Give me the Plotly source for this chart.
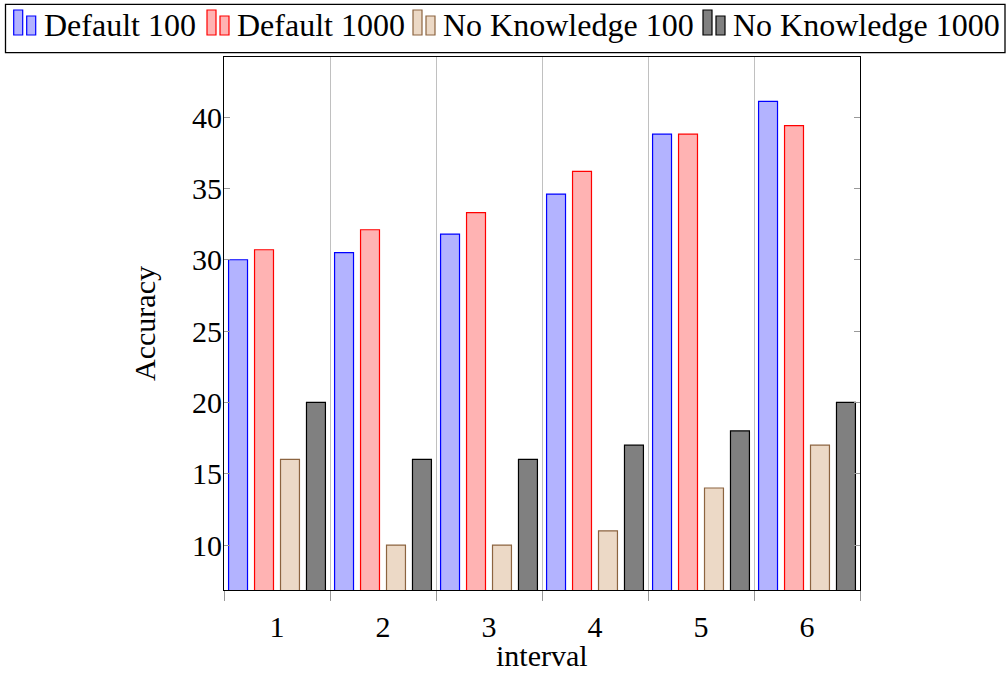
import plotly.graph_objects as go

intervals = [1, 2, 3, 4, 5, 6]
tick_labels = ["1", "2", "3", "4", "5", "6"]
default_100 = [30.0, 30.5, 31.8, 34.6, 38.8, 41.1]
default_1000 = [30.7, 32.1, 33.3, 36.2, 38.8, 39.4]
noknow_100 = [16, 10, 10, 11, 14, 17]
noknow_1000 = [20, 16, 16, 17, 18, 20]

series = [
    ("Default 100", default_100, "#b3b3ff", "#0000ff"),
    ("Default 1000", default_1000, "#ffb3b3", "#ff0000"),
    ("No Knowledge 100", noknow_100, "#ecd9c6", "#8c6440"),
    ("No Knowledge 1000", noknow_1000, "#808080", "#000000"),
]

FONT = "Liberation Serif"
W, H = 1008, 683
L, R, T, B = 224, 148, 57, 93
PW, PH = W - L - R, H - T - B


def px_x(px):
    return (px - L) / PW


def px_y(py):
    return (H - B - py) / PH


fig = go.Figure()
for name, vals, fill, line in series:
    fig.add_trace(go.Bar(
        x=intervals, y=vals, name=name, showlegend=False,
        marker=dict(color=fill, line=dict(color=line, width=1.2)),
    ))

# manual pgfplots-style legend
legend_starts = [13.7, 207, 413, 703]
shapes = [dict(type="rect", xref="paper", yref="paper",
               x0=px_x(5.5), x1=px_x(1005), y0=px_y(4.3), y1=px_y(52.7),
               line=dict(color="black", width=1.3), fillcolor="white", layer="below")]
annotations = []
for (name, vals, fill, line), sx in zip(series, legend_starts):
    shapes.append(dict(type="rect", xref="paper", yref="paper",
                       x0=px_x(sx), x1=px_x(sx + 9), y0=px_y(35), y1=px_y(10),
                       line=dict(color=line, width=1.2), fillcolor=fill))
    shapes.append(dict(type="rect", xref="paper", yref="paper",
                       x0=px_x(sx + 13), x1=px_x(sx + 22), y0=px_y(35), y1=px_y(16),
                       line=dict(color=line, width=1.2), fillcolor=fill))
    annotations.append(dict(text=name, xref="paper", yref="paper",
                            x=px_x(sx + 28), y=px_y(25), xanchor="left", yanchor="middle",
                            showarrow=False, font=dict(family=FONT, size=32, color="black")))

# x-axis title
annotations.append(dict(text="interval", xref="paper", yref="paper",
                        x=0.5, y=px_y(655), xanchor="center", yanchor="middle",
                        showarrow=False, font=dict(family=FONT, size=30, color="black")))

boundaries = [i + 0.5 for i in range(0, 7)]

fig.update_layout(
    width=W, height=H,
    margin=dict(l=L, r=R, t=T, b=B),
    barmode="group", bargap=0.02, bargroupgap=0.27,
    plot_bgcolor="white", paper_bgcolor="white",
    font=dict(family=FONT, size=30, color="black"),
    showlegend=False,
    shapes=shapes, annotations=annotations,
)
fig.update_xaxes(
    range=[0.5, 6.5], tickvals=intervals, ticktext=tick_labels,
    ticks="", showgrid=False, zeroline=False, automargin=False,
    showline=True, linecolor="black", linewidth=1.2, mirror=True,
    ticklabelstandoff=10,
    minor=dict(tickvals=boundaries, ticks="outside", ticklen=10,
               tickcolor="#999999", showgrid=True, gridcolor="#c0c0c0", gridwidth=1),
)
fig.update_yaxes(
    range=[6.85, 44.21], tickvals=[10, 15, 20, 25, 30, 35, 40],
    ticks="inside", ticklen=6, tickcolor="#999999", tickwidth=1,
    showgrid=False, zeroline=False, automargin=False,
    showline=True, linecolor="black", linewidth=1.2, mirror="ticks",
    ticklabelstandoff=-5,
    title=dict(text="Accuracy", standoff=27, font=dict(size=30)),
)
fig.write_html("out.html", config={"displayModeBar": False},
               post_script="document.body.style.margin='0';")
